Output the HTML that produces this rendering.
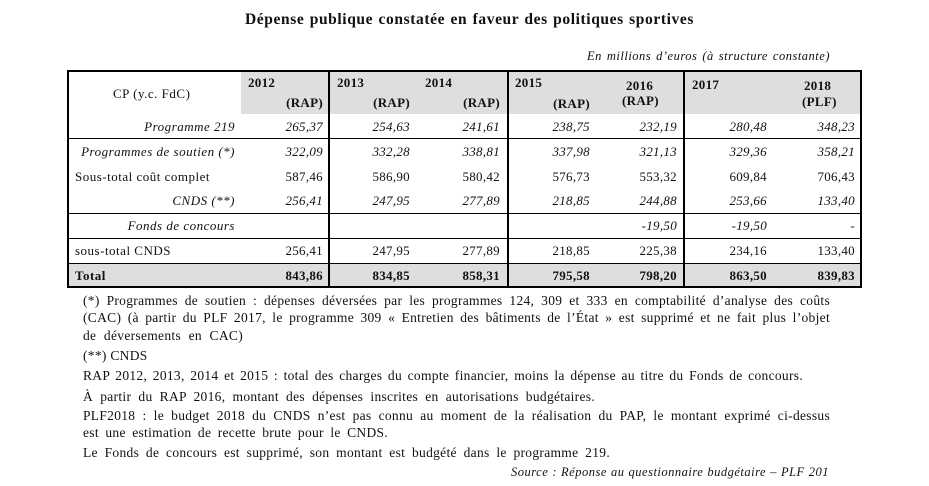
<!DOCTYPE html>
<html><head><meta charset="utf-8">
<style>
body{margin:0;width:929px;height:486px;background:#fff;position:relative;overflow:hidden;font-family:"Liberation Serif",serif;color:#111}
.a{position:absolute;white-space:nowrap;line-height:1}
.t{font-size:13px;letter-spacing:0.3px}
.lab{letter-spacing:0.5px}
.r{text-align:right}
.i{font-style:italic}
.b{font-weight:bold}
.box{position:absolute;background:#000}
.g{position:absolute;background:#dedede}
.fl{position:absolute;left:83px;font-size:13.5px;letter-spacing:0.3px;line-height:1;white-space:nowrap;text-align:justify;text-align-last:justify}
.j{text-align:justify;text-align-last:justify}
</style></head><body>
<div class="a b j" style="left:245px;width:449px;top:12px;font-size:15.5px;letter-spacing:0.6px">Dépense publique constatée en faveur des politiques sportives</div>
<div class="a i j" style="left:587px;width:243px;top:50px;font-size:12.5px;letter-spacing:0.5px">En millions d’euros (à structure constante)</div>

<div>
<div class="g" style="left:241px;top:71px;width:620px;height:43px"></div>
<div class="g" style="left:67px;top:264px;width:794px;height:23px"></div>
<div class="box" style="left:67px;top:70px;width:795px;height:2px"></div>
<div class="box" style="left:67px;top:286px;width:795px;height:2px"></div>
<div class="box" style="left:67px;top:70px;width:2px;height:218px"></div>
<div class="box" style="left:860px;top:70px;width:2px;height:218px"></div>
<div class="box" style="left:328px;top:70px;width:2px;height:218px"></div>
<div class="box" style="left:507px;top:70px;width:2px;height:218px"></div>
<div class="box" style="left:683px;top:70px;width:2px;height:218px"></div>
<div class="box" style="left:67px;top:138px;width:795px;height:1px"></div>
<div class="box" style="left:67px;top:213px;width:795px;height:1px"></div>
<div class="box" style="left:67px;top:238px;width:795px;height:1px"></div>
<div class="box" style="left:67px;top:263px;width:795px;height:1px"></div>
</div>

<div class="a t lab" style="left:113px;top:87px">CP (y.c. FdC)</div>
<div class="a t b" style="left:248px;top:76px">2012</div>
<div class="a t b r" style="right:606px;top:96px">(RAP)</div>
<div class="a t b" style="left:337px;top:76px">2013</div>
<div class="a t b r" style="right:519px;top:96px">(RAP)</div>
<div class="a t b" style="left:425px;top:76px">2014</div>
<div class="a t b r" style="right:429px;top:96px">(RAP)</div>
<div class="a t b" style="left:515px;top:76px">2015</div>
<div class="a t b r" style="right:339px;top:97px">(RAP)</div>
<div class="a t b" style="left:626px;top:79px">2016</div>
<div class="a t b" style="left:622px;top:94px">(RAP)</div>
<div class="a t b" style="left:692px;top:78px">2017</div>
<div class="a t b" style="left:804px;top:79px">2018</div>
<div class="a t b" style="left:802px;top:95px">(PLF)</div>

<div id="rows"></div>

<div>
<div class="fl" style="top:294px;width:747px">(*) Programmes de soutien : dépenses déversées par les programmes 124, 309 et 333 en comptabilité d’analyse des coûts</div>
<div class="fl" style="top:311px;width:747px">(CAC) (à partir du PLF 2017, le programme 309 « Entretien des bâtiments de l’État » est supprimé et ne fait plus l’objet</div>
<div class="fl" style="top:329px;width:160px">de déversements en CAC)</div>
<div class="fl" style="top:349px;width:63px">(**) CNDS</div>
<div class="fl" style="top:369px;width:720px">RAP 2012, 2013, 2014 et 2015 : total des charges du compte financier, moins la dépense au titre du Fonds de concours.</div>
<div class="fl" style="top:390px;width:512px">À partir du RAP 2016, montant des dépenses inscrites en autorisations budgétaires.</div>
<div class="fl" style="top:409px;width:747px">PLF2018 : le budget 2018 du CNDS n’est pas connu au moment de la réalisation du PAP, le montant exprimé ci-dessus</div>
<div class="fl" style="top:426px;width:305px">est une estimation de recette brute pour le CNDS.</div>
<div class="fl" style="top:446px;width:527px">Le Fonds de concours est supprimé, son montant est budgété dans le programme 219.</div>
</div>
<div class="a i j" style="left:511px;width:318px;top:466px;font-size:12.5px;letter-spacing:0.5px">Source : Réponse au questionnaire budgétaire – PLF 201</div>

<script>
const rowLabels=["Programme 219","Programmes de soutien (*)","Sous-total coût complet","CNDS (**)","Fonds de concours","sous-total CNDS","Total"];
const rowStyles=["i","i","","i","i","","b"];
const rowAlign=["right","right","left","right","right","left","left"];
const years=["2012","2013","2014","2015","2016","2017","2018"];
const v219=["265,37","254,63","241,61","238,75","232,19","280,48","348,23"];
const vSoutien=["322,09","332,28","338,81","337,98","321,13","329,36","358,21"];
const vCoutComplet=["587,46","586,90","580,42","576,73","553,32","609,84","706,43"];
const vCnds=["256,41","247,95","277,89","218,85","244,88","253,66","133,40"];
const vFonds=["","","","","-19,50","-19,50","-"];
const vSousCnds=["256,41","247,95","277,89","218,85","225,38","234,16","133,40"];
const vTotal=["843,86","834,85","858,31","795,58","798,20","863,50","839,83"];
const rowsData=[v219,vSoutien,vCoutComplet,vCnds,vFonds,vSousCnds,vTotal];
const rowTop=[120,145,170,194,219,244,269];
const colRight=[323,410,500,590,677,767,855];
const host=document.getElementById('rows');
rowLabels.forEach((lab,r)=>{
  const d=document.createElement('div');
  
  
  d.className='a t lab '+rowStyles[r];
  d.textContent=lab;
  d.style.top=rowTop[r]+'px';
  if(rowAlign[r]==='left'){d.style.left='75px';}else{d.style.right=(929-235)+'px';}
  host.appendChild(d);
  rowsData[r].forEach((val,c)=>{
    const e=document.createElement('div');
    
    
    e.className='a t r '+rowStyles[r];
    e.textContent=val;
    e.style.top=rowTop[r]+'px';
    e.style.right=(929-colRight[c])+'px';
    host.appendChild(e);
  });
});
</script>
</body></html>
